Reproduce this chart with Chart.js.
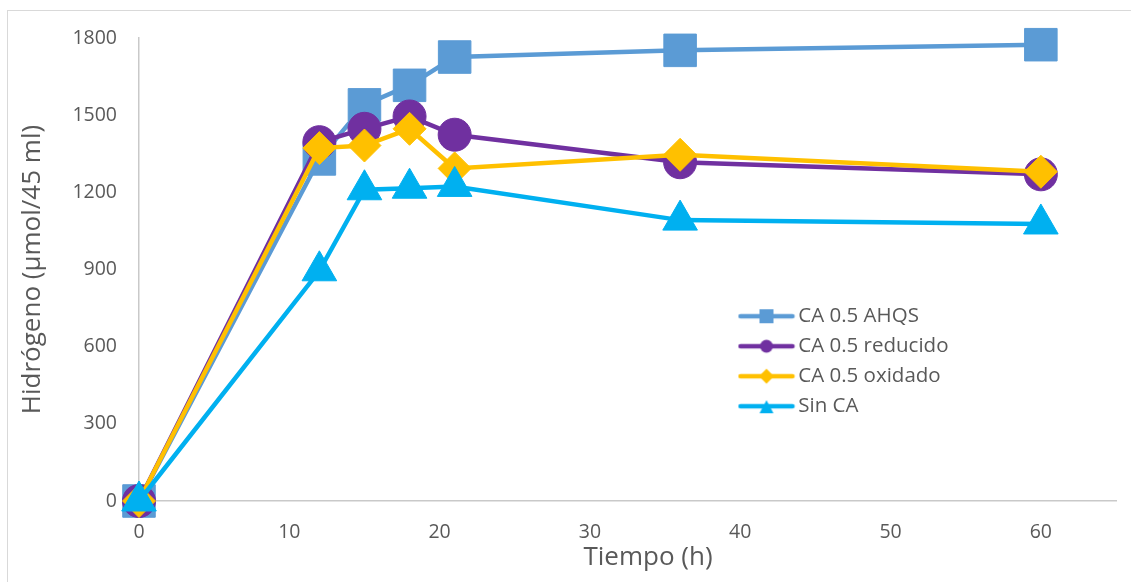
<!DOCTYPE html>
<html><head><meta charset="utf-8">
<script src="https://cdn.jsdelivr.net/npm/chart.js@4.4.1/dist/chart.umd.min.js"></script>
<style>
html,body{margin:0;padding:0;background:#fff;overflow:hidden}
#wrap{position:relative;width:1131px;height:582px}
#frame{position:absolute;left:7px;top:10px;width:1140px;height:600px;border:1px solid #D9D9D9;box-sizing:border-box;pointer-events:none}
canvas{position:absolute;left:0;top:0}
</style></head><body>
<div id="wrap"><canvas id="c" width="1131" height="582"></canvas><div id="frame"></div></div>
<script>
// ---- data ----
const hours = [0, 12, 15, 18, 21, 36, 60];
const seriesNames = ['CA 0.5 AHQS', 'CA 0.5 reducido', 'CA 0.5 oxidado', 'Sin CA'];
const ahqs     = [0, 1330, 1540, 1616, 1726, 1752, 1774];
const reducido = [0, 1395, 1447, 1495, 1424, 1317, 1270];
const oxidado  = [0, 1372, 1382, 1447, 1293, 1346, 1280];
const sinCA    = [0, 895, 1210, 1216, 1223, 1092, 1077];
const xTicks = [0, 10, 20, 30, 40, 50, 60];
const yTicks = [0, 300, 600, 900, 1200, 1500, 1800];
const xTitle = 'Tiempo (h)';
const yTitle = 'Hidrógeno (µmol/45 ml)';

// ---- styles ----
const FONT = '"Open Sans", "Noto Sans", sans-serif';
const TXT = '#595959';
const colors = ['#5B9BD5', '#7030A0', '#FFC000', '#00B0F0'];
const styles = ['rect', 'circle', 'rectRot', 'triangle'];
const radii = [23, 16.5, 16.5, 20];
const values = [ahqs, reducido, oxidado, sinCA];

function legendIcon(color, style) {
  const c = document.createElement('canvas');
  c.width = 58; c.height = 20;
  const g = c.getContext('2d');
  g.strokeStyle = color; g.fillStyle = color;
  g.lineWidth = 4.5; g.lineCap = 'round';
  g.beginPath(); g.moveTo(3, 10); g.lineTo(55, 10); g.stroke();
  const cx = 29, cy = 10;
  g.beginPath();
  if (style === 'rect') { g.rect(cx - 7, cy - 7, 14, 14); }
  else if (style === 'circle') { g.arc(cx, cy, 6.5, 0, Math.PI * 2); }
  else if (style === 'rectRot') { g.moveTo(cx, cy - 7.5); g.lineTo(cx + 7.5, cy); g.lineTo(cx, cy + 7.5); g.lineTo(cx - 7.5, cy); g.closePath(); }
  else { g.moveTo(cx, cy - 6); g.lineTo(cx + 7, cy + 7); g.lineTo(cx - 7, cy + 7); g.closePath(); }
  g.fill();
  return c;
}
const icons = colors.map((c, i) => legendIcon(c, styles[i]));

const datasets = seriesNames.map((name, i) => ({
  label: name,
  data: hours.map((h, j) => ({x: h, y: values[i][j]})),
  borderColor: colors[i],
  backgroundColor: colors[i],
  borderWidth: 4.5,
  pointStyle: styles[i],
  pointRadius: radii[i],
  pointHoverRadius: radii[i],
  pointBackgroundColor: colors[i],
  pointBorderColor: colors[i],
  pointBorderWidth: 1,
  tension: 0,
  clip: false,
  order: 4 - i
}));

const layoutPlugin = {
  id: 'layoutFix',
  afterLayout(chart) {
    const lg = chart.legend;
    if (lg) { lg.left = 735.5; lg.top = 296.5; lg.right = 1100; lg.bottom = 470; }
  },
  afterDraw(chart) {
    const ctx = chart.ctx;
    ctx.save();
    ctx.font = '26px ' + FONT;
    ctx.fillStyle = TXT;
    ctx.textAlign = 'center';
    ctx.textBaseline = 'alphabetic';
    ctx.fillText(xTitle, 648, 565);
    ctx.restore();
  }
};

new Chart(document.getElementById('c'), {
  type: 'line',
  data: {datasets},
  plugins: [layoutPlugin],
  options: {
    responsive: false,
    animation: false,
    devicePixelRatio: 1,
    layout: {autoPadding: false, padding: {left: 0, top: 38, right: 15, bottom: 0}},
    plugins: {
      tooltip: {enabled: false},
      legend: {
        display: true,
        position: 'chartArea',
        align: 'start',
        labels: {
          usePointStyle: true,
          pointStyleWidth: 43,
          padding: 9.5,
          color: TXT,
          font: {family: FONT, size: 20.5},
          generateLabels: () => seriesNames.map((n, i) => ({
            text: n, fillStyle: colors[i], strokeStyle: colors[i], lineWidth: 0,
            pointStyle: icons[i], hidden: false, datasetIndex: i, fontColor: TXT
          }))
        }
      }
    },
    scales: {
      x: {
        type: 'linear', min: 0, max: 65,
        afterBuildTicks: s => { s.ticks = xTicks.map(v => ({value: v})); },
        afterFit: s => { s.height = 81; s.paddingLeft = 0; s.paddingRight = 0; },
        grid: {display: false, drawTicks: false},
        border: {display: true, color: '#C9C9C9', width: 1.5},
        ticks: {color: TXT, font: {family: FONT, size: 19.5}, padding: 20, maxRotation: 0, autoSkip: false,
                callback: v => String(v)},
        title: {display: false}
      },
      y: {
        type: 'linear', min: 0, max: 1800,
        afterBuildTicks: s => { s.ticks = yTicks.map(v => ({value: v})); },
        afterFit: s => { s.width = 139; s.paddingTop = 0; s.paddingBottom = 0; },
        grid: {display: false, drawTicks: false},
        border: {display: true, color: '#C9C9C9', width: 1.5},
        ticks: {color: TXT, font: {family: FONT, size: 19.5}, padding: 22, callback: v => String(v)},
        title: {display: true, text: yTitle, color: TXT, font: {family: FONT, size: 26}, padding: {top: 17, bottom: 0}}
      }
    }
  }
});
</script>
</body></html>
